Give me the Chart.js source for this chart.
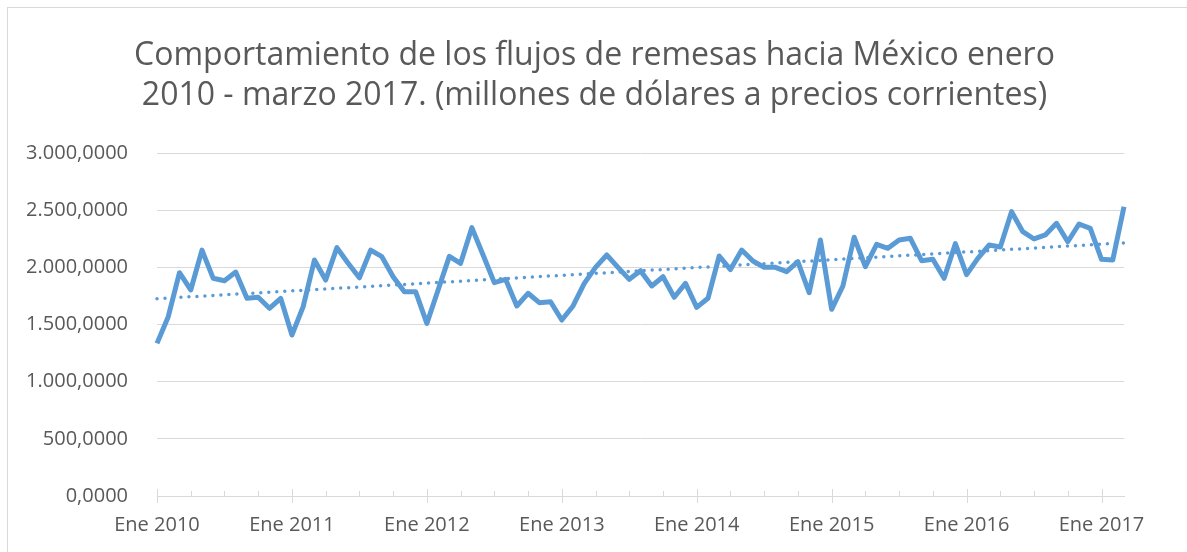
<!DOCTYPE html>
<html>
<head>
<meta charset="utf-8">
<script src="https://cdn.jsdelivr.net/npm/chart.js@4.4.1/dist/chart.umd.min.js"></script>
<style>
html,body{margin:0;padding:0;background:#fff;}
#wrap{width:1187px;height:552px;position:relative;}
</style>
</head>
<body>
<div id="wrap"><canvas id="c" width="1187" height="552"></canvas></div>
<script>
// ---- Data ----
const chartTitle = ['Comportamiento de los flujos de remesas hacia México enero',
                    '2010 - marzo 2017. (millones de dólares a precios corrientes)'];
const years = [2010, 2011, 2012, 2013, 2014, 2015, 2016, 2017];
const monthNames = ['Ene','Feb','Mar','Abr','May','Jun','Jul','Ago','Sep','Oct','Nov','Dic'];
const yearTickPrefix = 'Ene';
// monthly remittances, Jan 2010 .. Mar 2017 (millions USD)
const remesas = [
  1335, 1568, 1953, 1802, 2151, 1904, 1883, 1959, 1729, 1738, 1642, 1729,   // 2010
  1408, 1656, 2064, 1889, 2172, 2035, 1909, 2151, 2093, 1918, 1787, 1787,   // 2011
  1510, 1802, 2096, 2035, 2347, 2108, 1866, 1895, 1662, 1773, 1691, 1699,   // 2012
  1539, 1662, 1860, 2000, 2108, 2000, 1895, 1971, 1837, 1918, 1738, 1860,   // 2013
  1650, 1729, 2099, 1980, 2151, 2055, 2000, 2000, 1962, 2049, 1778, 2239,   // 2014
  1633, 1837, 2263, 2006, 2201, 2166, 2239, 2254, 2058, 2070, 1904, 2207,   // 2015
  1936, 2079, 2195, 2178, 2487, 2312, 2248, 2283, 2385, 2224, 2379, 2341,   // 2016
  2070, 2064, 2530                                                          // 2017
];
const yMin = 0, yMax = 3000, yStep = 500;

// ---- Derived ----
const categories = [];
years.forEach(y => monthNames.forEach(m => categories.push(m + ' ' + y)));
categories.length = remesas.length;

// linear trend (least squares) of the series, as in the original spreadsheet
const n = remesas.length;
let sx = 0, sy = 0, sxy = 0, sxx = 0;
remesas.forEach((v, i) => { sx += i; sy += v; sxy += i * v; sxx += i * i; });
const slope = (n * sxy - sx * sy) / (n * sxx - sx * sx);
const intercept = (sy - slope * sx) / n;
const trend = remesas.map((_, i) => intercept + slope * i);

function fmt(v) {
  const s = Math.round(v).toString().replace(/\B(?=(\d{3})+(?!\d))/g, '.');
  return s + ',0000';
}

const frame = {
  id: 'frame',
  beforeDraw(chart) {
    const ctx = chart.ctx;
    ctx.save();
    ctx.fillStyle = '#ffffff';
    ctx.fillRect(0, 0, chart.width, chart.height);
    ctx.strokeStyle = '#d9d9d9';
    ctx.lineWidth = 1;
    ctx.strokeRect(7.5, 7.5, chart.width + 20, chart.height + 20);
    ctx.restore();
  }
};

const xTicks = {
  id: 'xTicks',
  beforeDatasetsDraw(chart) {
    const sc = chart.scales.x, ctx = chart.ctx, y0 = chart.chartArea.bottom;
    ctx.save();
    ctx.strokeStyle = '#d9d9d9';
    ctx.lineWidth = 1;
    for (let i = 0; i < categories.length; i += 3) {
      const px = Math.round(sc.getPixelForValue(i)) + 0.5;
      ctx.beginPath();
      if (i % 12 === 0) { ctx.moveTo(px, y0 - 7); ctx.lineTo(px, y0 + 7); }
      else { ctx.moveTo(px, y0 - 5); ctx.lineTo(px, y0); }
      ctx.stroke();
    }
    ctx.restore();
  }
};

const FONT = 'Open Sans';
const GREY = '#595959';

new Chart(document.getElementById('c'), {
  type: 'line',
  data: {
    labels: categories,
    datasets: [
      {
        label: 'Remesas',
        data: remesas,
        borderColor: '#5B9BD5',
        borderWidth: 5,
        pointRadius: 0,
        tension: 0,
        borderJoinStyle: 'round',
        borderCapStyle: 'butt',
        fill: false,
        clip: false,
        order: 1
      },
      {
        label: 'Lineal',
        data: trend,
        borderColor: '#5B9BD5',
        borderWidth: 3.5,
        borderDash: [0, 8],
        borderCapStyle: 'round',
        pointRadius: 0,
        tension: 0,
        fill: false,
        clip: false,
        order: 2
      }
    ]
  },
  options: {
    responsive: false,
    animation: false,
    devicePixelRatio: 1,
    layout: { padding: { left: 2, right: 0, top: 0, bottom: 0 } },
    plugins: {
      legend: { display: false },
      tooltip: { enabled: false },
      title: {
        display: true,
        text: chartTitle,
        color: GREY,
        font: { family: FONT, size: 32, weight: 'normal', lineHeight: 40 / 32 },
        padding: { top: 36, bottom: 37 }
      }
    },
    scales: {
      x: {
        type: 'category',
        offset: false,
        grid: { display: false, drawTicks: false },
        border: { display: true, color: '#d9d9d9', width: 1 },
        ticks: {
          autoSkip: false,
          maxRotation: 0,
          minRotation: 0,
          padding: 17,
          color: GREY,
          font: { family: FONT, size: 20 },
          callback: (v, i) => (i % 12 === 0 ? yearTickPrefix + ' ' + years[i / 12] : '')
        },
        afterFit: s => { s.height = 56; }
      },
      y: {
        position: 'left',
        min: yMin,
        max: yMax,
        grid: { color: '#d9d9d9', lineWidth: 1, drawTicks: false },
        border: { display: false },
        ticks: {
          stepSize: yStep,
          padding: 29,
          color: GREY,
          font: { family: FONT, size: 20 },
          callback: v => fmt(v)
        },
        afterFit: s => { s.width = 155; }
      },
      yRight: {
        position: 'right',
        display: true,
        grid: { display: false, drawTicks: false },
        border: { display: false },
        ticks: { display: false },
        afterFit: s => { s.width = 63; }
      }
    }
  },
  plugins: [frame, xTicks]
});
</script>
</body>
</html>
